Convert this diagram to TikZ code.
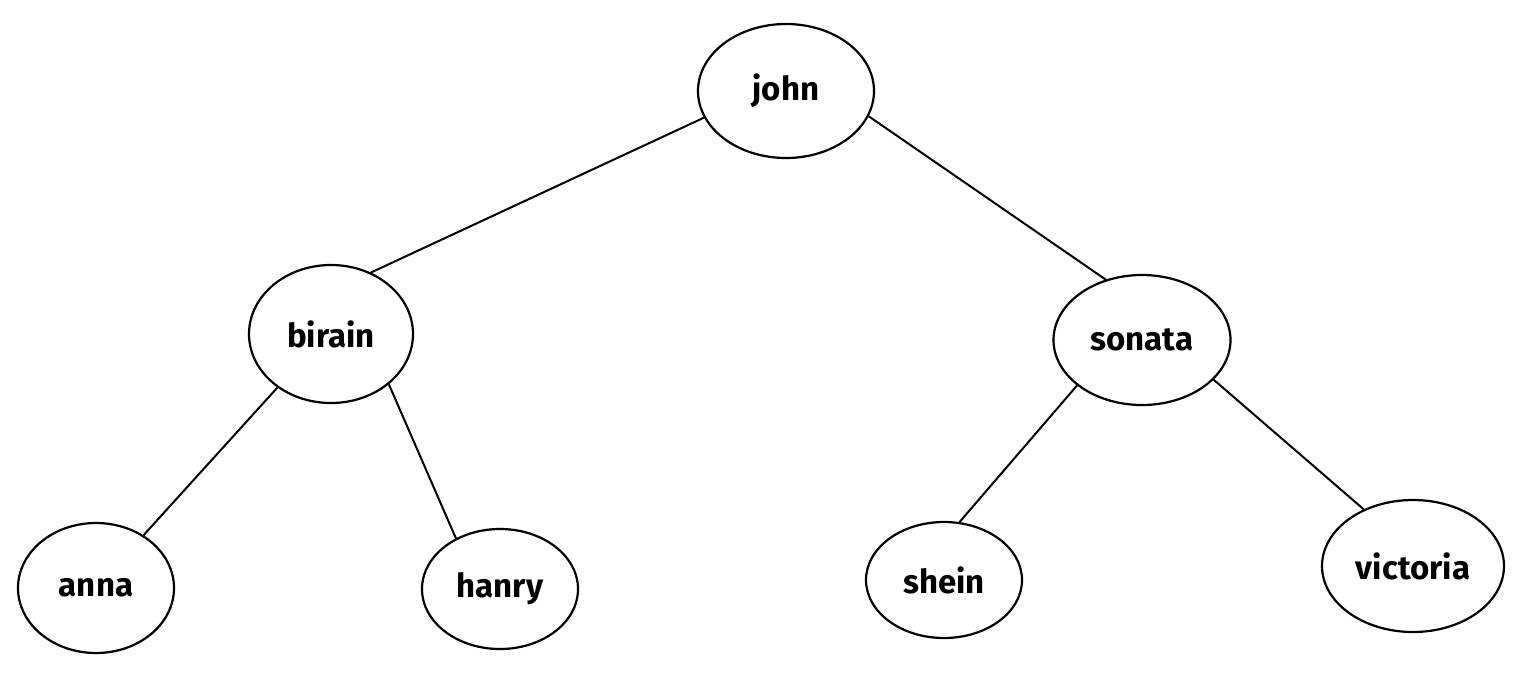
\documentclass[tikz,border=0pt]{standalone}
\usepackage{fontspec}
\setmainfont{Fira Sans}
\usetikzlibrary{shapes.geometric}
\tikzset{
  person/.style={ellipse, draw=black, line width=2.2pt, inner sep=0pt, font=\fontsize{33}{38}\selectfont\bfseries},
  link/.style={draw=black, line width=2pt}
}
\begin{document}
\begin{tikzpicture}[x=1pt,y=-1pt]
\useasboundingbox[fill=white] (0,0) rectangle (1526,673);
\node[person, minimum width=176pt, minimum height=134pt] (john) at (786,91) {john};
\node[person, minimum width=164pt, minimum height=138pt] (birain) at (331,334) {birain};
\node[person, minimum width=177pt, minimum height=130pt] (sonata) at (1142,340) {sonata};
\node[person, minimum width=156pt, minimum height=130pt] (anna) at (96,588) {anna};
\node[person, minimum width=156pt, minimum height=120pt] (hanry) at (500,589) {hanry};
\node[person, minimum width=156pt, minimum height=116pt] (shein) at (944,580) {shein};
\node[person, minimum width=182pt, minimum height=132pt] (victoria) at (1413,566) {victoria};
\draw[link] (john.198) -- (birain.57);
\draw[link] (john.343) -- (sonata.121);
\draw[link] (birain.225) -- (anna.48);
\draw[link] (birain.319) -- (hanry.131);
\draw[link] (sonata.215) -- (shein.75);
\draw[link] (sonata.331) -- (victoria.131);
\end{tikzpicture}
\end{document}
